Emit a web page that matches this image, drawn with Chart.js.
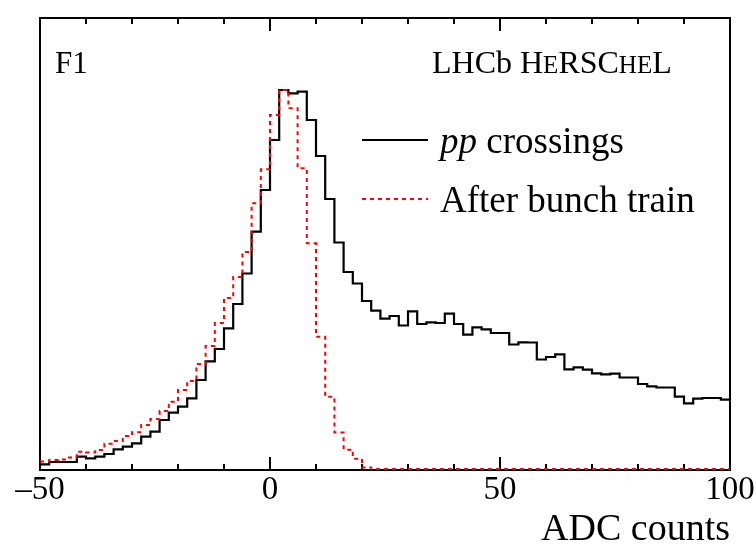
<!DOCTYPE html>
<html>
<head>
<meta charset="utf-8">
<script src="https://cdn.jsdelivr.net/npm/chart.js@4.4.1/dist/chart.umd.min.js"></script>
<style>
  html, body { margin: 0; padding: 0; background: #fff; }
  #wrap { position: relative; width: 756px; height: 552px; }
</style>
</head>
<body>
<div id="wrap"><canvas id="adcChart"></canvas></div>
<script>
// F1 ADC spectrum: 2-count bins from -50 to 100 (arbitrary normalisation)
const binStart = -50;
const binWidth = 2;

const ppCrossings = [
  5.7, 8, 8, 8, 13.3, 11.7, 13.3, 16, 20.7, 23.3,
  26.7, 33.3, 38.3, 50, 57.3, 63.3, 71.7, 90, 108.7, 121,
  141.7, 166, 196.5, 238.3, 280, 330, 380, 376.7, 378.3, 350,
  314, 271, 227.5, 198, 186.5, 169, 159.3, 151.3, 154, 144.5,
  158.7, 146, 147.7, 147, 156.3, 146, 135.3, 142.7, 140.7, 137,
  137, 125.5, 127.7, 127.5, 110.5, 113, 115.7, 100.7, 102.7, 100.3,
  96.7, 95.7, 96.3, 92.5, 92.5, 86, 83.7, 82.5, 82.5, 73.3,
  66.7, 71.3, 72, 72, 70.3
];

const afterTrain = [
  8.5, 10, 10.5, 12.5, 18.3, 17.5, 20, 26.3, 29, 34,
  37.7, 45, 51, 59, 68.3, 80, 89, 106, 124, 147,
  172, 193, 218, 266.7, 300.7, 355, 380, 361.7, 301.7, 226.7,
  133.3, 73.3, 37.5, 20.3, 11.2, 2.5, 1, 1, 1, 1,
  1, 1, 1, 1, 1, 1, 1, 1, 1, 1,
  1, 1, 1, 1, 1, 1, 1, 1, 1, 1,
  1, 1, 1, 1, 1, 1, 1, 1, 1, 1,
  1, 1, 1, 1, 1
];

const xLabelValues = [-50, 0, 50, 100];
const yMax = 452;

const serif = "'Liberation Serif', 'Times New Roman', serif";

// legend text pieces, italic flag for the "pp"
const legendParts = [
  [['pp', true], [' crossings', false]],
  [['After bunch train', false]]
];

// one point per bin low edge plus the closing edge, drawn as a step line
function toSteps(values) {
  const pts = values.map((v, i) => ({ x: binStart + i * binWidth, y: v }));
  pts.push({ x: binStart + values.length * binWidth, y: values[values.length - 1] });
  return pts;
}

// frame with inward ticks on top and bottom
const framePlugin = {
  id: 'frame',
  beforeDatasetsDraw(chart) {
    const { ctx, chartArea: a } = chart;
    const xs = chart.scales.x;
    ctx.save();
    ctx.strokeStyle = '#000';
    ctx.lineWidth = 2;
    ctx.strokeRect(a.left, a.top, a.right - a.left, a.bottom - a.top);
    ctx.beginPath();
    xs.ticks.forEach(t => {
      const px = Math.round(xs.getPixelForValue(t.value));
      const len = t.value % 50 === 0 ? 13 : 6;
      ctx.moveTo(px, a.bottom);
      ctx.lineTo(px, a.bottom - len);
      ctx.moveTo(px, a.top);
      ctx.lineTo(px, a.top + len);
    });
    ctx.stroke();
    ctx.restore();
  }
};

const labelPlugin = {
  id: 'labels',
  afterDraw(chart) {
    const ctx = chart.ctx;
    ctx.save();
    ctx.fillStyle = '#000';
    ctx.textBaseline = 'alphabetic';
    ctx.textAlign = 'left';

    ctx.font = `31px ${serif}`;
    ctx.fillText('F1', 55, 73);

    // LHCb HeRSCheL with small capitals
    let x = 432;
    [['LHCb H', 32], ['E', 25], ['RSC', 32], ['HE', 25], ['L', 32]].forEach(([s, size]) => {
      ctx.font = `${size}px ${serif}`;
      ctx.fillText(s, x, 73);
      x += ctx.measureText(s).width;
    });

    // legend
    const rows = [140, 199];
    chart.data.datasets.forEach((ds, i) => {
      const y = rows[i];
      ctx.save();
      ctx.strokeStyle = ds.borderColor;
      ctx.lineWidth = ds.borderWidth;
      ctx.setLineDash(ds.borderDash || []);
      ctx.beginPath();
      ctx.moveTo(362, y);
      ctx.lineTo(428, y);
      ctx.stroke();
      ctx.restore();
      let tx = 440;
      legendParts[i].forEach(([s, italic]) => {
        ctx.font = `${italic ? 'italic ' : ''}37px ${serif}`;
        ctx.fillText(s, tx, y + 13);
        tx += ctx.measureText(s).width;
      });
    });
    ctx.restore();
  }
};

new Chart(document.getElementById('adcChart'), {
  type: 'line',
  data: {
    datasets: [
      {
        label: 'pp crossings',
        data: toSteps(ppCrossings),
        borderColor: '#000000',
        borderWidth: 2.2,
        stepped: 'before',
        pointRadius: 0,
        fill: false,
        order: 1
      },
      {
        label: 'After bunch train',
        data: toSteps(afterTrain),
        borderColor: '#ff0000',
        borderWidth: 2,
        borderDash: [4, 4],
        stepped: 'before',
        pointRadius: 0,
        fill: false,
        order: 0
      }
    ]
  },
  options: {
    responsive: true,
    maintainAspectRatio: false,
    animation: false,
    layout: { padding: { left: 40, right: 26, top: 18, bottom: 0 } },
    plugins: {
      legend: { display: false },
      tooltip: { enabled: false }
    },
    scales: {
      x: {
        type: 'linear',
        min: -50,
        max: 100,
        border: { display: false },
        grid: { display: false, drawTicks: false },
        ticks: {
          stepSize: 10,
          autoSkip: false,
          maxRotation: 0,
          padding: 4,
          color: '#000',
          font: { family: serif, size: 33, lineHeight: 1 },
          callback: v => xLabelValues.includes(v) ? String(v).replace('-', '\u2013') : ''
        },
        title: {
          display: true,
          text: 'ADC counts',
          align: 'end',
          color: '#000',
          font: { family: serif, size: 38, lineHeight: 1 },
          padding: { top: 0, bottom: 3 }
        },
        afterFit(scale) {
          scale.height = 82;
          scale.paddingLeft = 0;
          scale.paddingRight = 0;
        }
      },
      y: {
        display: false,
        min: 0,
        max: yMax
      }
    }
  },
  plugins: [framePlugin, labelPlugin]
});
</script>
</body>
</html>
